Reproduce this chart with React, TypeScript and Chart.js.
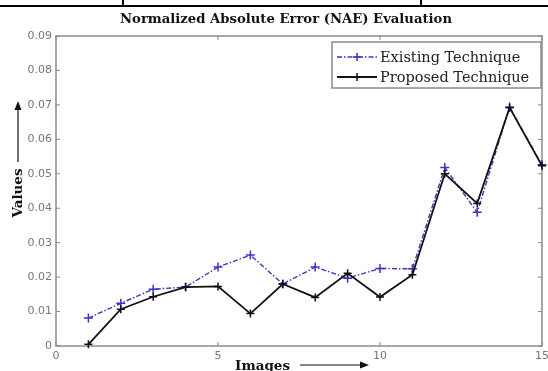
import React, { useEffect, useRef } from 'react';
import { Chart, registerables } from 'chart.js';

Chart.register(...registerables);

// ---- data ----
const images = [1, 2, 3, 4, 5, 6, 7, 8, 9, 10, 11, 12, 13, 14, 15];
const existingTechnique = [0.0081, 0.0124, 0.0165, 0.0171, 0.0229, 0.0264, 0.018, 0.0229, 0.0197, 0.0225, 0.0224, 0.0518, 0.0388, 0.0694, 0.0526];
const proposedTechnique = [0.0005, 0.0107, 0.0143, 0.0171, 0.0173, 0.0094, 0.018, 0.0141, 0.0211, 0.0142, 0.0207, 0.05, 0.0414, 0.0692, 0.0523];
const xTickValues = [0, 5, 10, 15];
const yTickValues = [0, 0.01, 0.02, 0.03, 0.04, 0.05, 0.06, 0.07, 0.08, 0.09];
const seriesNames = ['Existing Technique', 'Proposed Technique'];
const chartTitle = 'Normalized Absolute Error (NAE) Evaluation';
const xAxisTitle = 'Images';
const yAxisTitle = 'Values';

const BLUE = '#3a34c4';
const BLACK = '#111111';
const FRAME = '#8a8a8a';
const SERIF = '"DejaVu Serif", serif';
const SANS = '"DejaVu Sans", sans-serif';

function drawCross(ctx: CanvasRenderingContext2D, x: number, y: number, r: number) {
  ctx.beginPath();
  ctx.moveTo(x - r, y);
  ctx.lineTo(x + r, y);
  ctx.moveTo(x, y - r);
  ctx.lineTo(x, y + r);
  ctx.stroke();
}

const framePlugin = {
  id: 'frameAndExtras',
  beforeDatasetsDraw(chart: any) {
    const { ctx, chartArea: a, scales } = chart;
    ctx.save();
    ctx.strokeStyle = FRAME;
    ctx.lineWidth = 1.5;
    ctx.strokeRect(a.left, a.top, a.right - a.left, a.bottom - a.top);
    ctx.lineWidth = 1;
    ctx.beginPath();
    for (const v of xTickValues) {
      const px = scales.x.getPixelForValue(v);
      ctx.moveTo(px, a.bottom);
      ctx.lineTo(px, a.bottom - 4);
      ctx.moveTo(px, a.top);
      ctx.lineTo(px, a.top + 4);
    }
    for (const v of yTickValues) {
      const py = scales.y.getPixelForValue(v);
      ctx.moveTo(a.left, py);
      ctx.lineTo(a.left + 4, py);
      ctx.moveTo(a.right, py);
      ctx.lineTo(a.right - 4, py);
    }
    ctx.stroke();
    ctx.restore();
  },
  afterDraw(chart: any) {
    const { ctx, chartArea: a } = chart;
    ctx.save();
    // chart title
    ctx.fillStyle = '#111';
    ctx.font = `bold 13.2px ${SERIF}`;
    ctx.textAlign = 'center';
    ctx.textBaseline = 'middle';
    ctx.fillText(chartTitle, 286, 20);
    // legend box
    const lx = 332, ly = 42, lw = 209, lh = 46;
    ctx.fillStyle = '#ffffff';
    ctx.fillRect(lx, ly, lw, lh);
    ctx.strokeStyle = FRAME;
    ctx.lineWidth = 1.5;
    ctx.strokeRect(lx, ly, lw, lh);
    const rows = [
      { name: seriesNames[0], color: BLUE, dash: [5, 2, 1.5, 2], y: ly + 15, w: 1.4 },
      { name: seriesNames[1], color: BLACK, dash: [], y: ly + 35, w: 1.8 },
    ];
    ctx.font = `14.5px ${SERIF}`;
    ctx.textBaseline = 'middle';
    ctx.textAlign = 'left';
    for (const r of rows) {
      ctx.strokeStyle = r.color;
      ctx.lineWidth = r.w;
      ctx.setLineDash(r.dash);
      ctx.beginPath();
      ctx.moveTo(lx + 5, r.y);
      ctx.lineTo(lx + 45, r.y);
      ctx.stroke();
      ctx.setLineDash([]);
      ctx.lineWidth = 1.5;
      drawCross(ctx, lx + 25, r.y, 4);
      ctx.fillStyle = '#222';
      ctx.fillText(r.name, lx + 48, r.y + 1);
    }
    // axis titles with arrows
    ctx.fillStyle = '#111';
    ctx.font = `bold 13.5px ${SERIF}`;
    ctx.textAlign = 'center';
    ctx.textBaseline = 'middle';
    const tx = a.left + (a.right - a.left) * 0.425;
    ctx.fillText(xAxisTitle, tx, 366);
    ctx.save();
    ctx.translate(18, 193);
    ctx.rotate(-Math.PI / 2);
    ctx.fillText(yAxisTitle, 0, 0);
    ctx.restore();
    ctx.strokeStyle = '#111';
    ctx.lineWidth = 1.2;
    ctx.beginPath();
    ctx.moveTo(300, 365);
    ctx.lineTo(362, 365);
    ctx.stroke();
    ctx.beginPath();
    ctx.moveTo(369, 365);
    ctx.lineTo(360, 361.5);
    ctx.lineTo(360, 368.5);
    ctx.closePath();
    ctx.fill();
    ctx.beginPath();
    ctx.moveTo(18, 162);
    ctx.lineTo(18, 109);
    ctx.stroke();
    ctx.beginPath();
    ctx.moveTo(18, 101);
    ctx.lineTo(14.5, 110);
    ctx.lineTo(21.5, 110);
    ctx.closePath();
    ctx.fill();
    ctx.restore();
  },
};

export default function App() {
  const ref = useRef<HTMLCanvasElement>(null);
  useEffect(() => {
    if (!ref.current) return;
    const chart = new Chart(ref.current, {
      type: 'line',
      data: {
        datasets: [
          {
            label: seriesNames[0],
            data: images.map((x, i) => ({ x, y: existingTechnique[i] })),
            borderColor: BLUE,
            backgroundColor: BLUE,
            borderWidth: 1.4,
            borderDash: [5, 2, 1.5, 2],
            pointStyle: 'cross',
            pointRadius: 4.5,
            pointBorderWidth: 1.5,
            pointBorderColor: BLUE,
            tension: 0,
            order: 1,
            clip: 6,
          },
          {
            label: seriesNames[1],
            data: images.map((x, i) => ({ x, y: proposedTechnique[i] })),
            borderColor: BLACK,
            backgroundColor: BLACK,
            borderWidth: 1.8,
            pointStyle: 'cross',
            pointRadius: 4,
            pointBorderWidth: 1.5,
            pointBorderColor: BLACK,
            tension: 0,
            order: 0,
            clip: 6,
          },
        ],
      },
      options: {
        animation: false,
        responsive: false,
        layout: { padding: { left: 0, right: 6, top: 36, bottom: 0 } },
        plugins: {
          legend: { display: false },
          tooltip: { enabled: false },
          title: { display: false },
        },
        scales: {
          x: {
            type: 'linear',
            min: 0,
            max: 15,
            afterBuildTicks: (s: any) => {
              s.ticks = xTickValues.map((v) => ({ value: v }));
            },
            afterFit: (s: any) => {
              s.height = 25;
              s.paddingLeft = 0;
              s.paddingRight = 0;
            },
            grid: { display: false, drawTicks: false },
            border: { display: false },
            ticks: {
              color: '#777',
              font: { family: SANS, size: 11 },
              padding: 4,
              maxRotation: 0,
              callback: (v: any) => String(v),
            },
          },
          y: {
            type: 'linear',
            min: 0,
            max: 0.09,
            afterBuildTicks: (s: any) => {
              s.ticks = yTickValues.map((v) => ({ value: v }));
            },
            afterFit: (s: any) => {
              s.width = 56;
              s.paddingTop = 0;
              s.paddingBottom = 0;
            },
            grid: { display: false, drawTicks: false },
            border: { display: false },
            ticks: {
              color: '#777',
              font: { family: SANS, size: 11 },
              padding: 4,
              callback: (v: any) => (v === 0 ? '0' : Number(v).toFixed(2)),
            },
          },
        },
      },
      plugins: [framePlugin],
    } as any);
    return () => chart.destroy();
  }, []);

  return (
    <div style={{ position: 'absolute', left: 0, top: 0, width: 548, height: 371, background: '#fff', overflow: 'hidden' }}>
      <canvas ref={ref} width={548} height={371} style={{ display: 'block', width: 548, height: 371 }} />
      <div style={{ position: 'absolute', left: 0, top: 5, width: 548, height: 2, background: '#000' }} />
      <div style={{ position: 'absolute', left: 122, top: 0, width: 2, height: 6, background: '#000' }} />
      <div style={{ position: 'absolute', left: 420, top: 0, width: 2, height: 6, background: '#000' }} />
    </div>
  );
}
